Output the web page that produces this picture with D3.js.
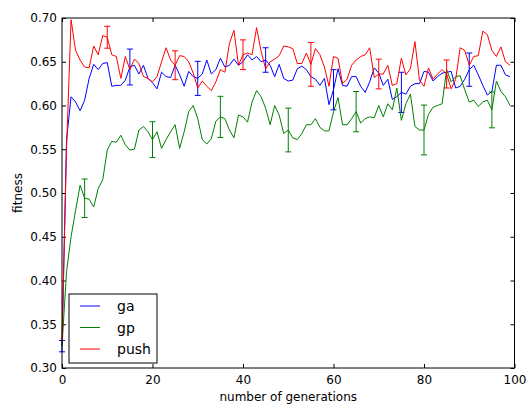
<!DOCTYPE html>
<html>
<head>
<meta charset="utf-8">
<script src="https://d3js.org/d3.v7.min.js"></script>
<style>
  body { margin: 0; background: white; }
  text { font-family: "DejaVu Sans", sans-serif; }
</style>
</head>
<body>
<div id="chart"></div>
<script>
// fitness per generation (0..99)
const ga = [
  0.325, 0.56, 0.61, 0.604, 0.594, 0.606, 0.631, 0.647, 0.641, 0.648,
  0.649, 0.622, 0.623, 0.623, 0.629, 0.644, 0.646, 0.636, 0.646, 0.631,
  0.626, 0.619, 0.638, 0.633, 0.632, 0.646, 0.635, 0.622, 0.639, 0.633,
  0.631, 0.636, 0.652, 0.636, 0.641, 0.654, 0.644, 0.646, 0.653, 0.646,
  0.65, 0.658, 0.652, 0.656, 0.65, 0.652, 0.646, 0.633, 0.647, 0.631,
  0.628, 0.629, 0.642, 0.645, 0.641, 0.633, 0.63, 0.623, 0.631, 0.601,
  0.618, 0.642, 0.623, 0.622, 0.633, 0.633, 0.622, 0.615, 0.627, 0.643,
  0.637, 0.623, 0.63, 0.607, 0.61, 0.615, 0.613, 0.622, 0.625, 0.625,
  0.639, 0.638, 0.628, 0.633, 0.637, 0.638, 0.639, 0.62, 0.622, 0.63,
  0.641, 0.646, 0.635, 0.623, 0.612, 0.616, 0.646, 0.646, 0.635, 0.633
];
const gp = [
  0.325, 0.41, 0.45, 0.48, 0.509, 0.494, 0.493, 0.484, 0.505, 0.515,
  0.549, 0.559, 0.558, 0.566, 0.555, 0.549, 0.55, 0.572, 0.576, 0.57,
  0.561, 0.57, 0.551, 0.561, 0.57, 0.578, 0.551, 0.57, 0.593, 0.6,
  0.585, 0.561, 0.556, 0.562, 0.582, 0.587, 0.585, 0.572, 0.563, 0.589,
  0.587, 0.581, 0.604, 0.617, 0.61, 0.597, 0.578, 0.6, 0.589, 0.568,
  0.572, 0.563, 0.561, 0.568, 0.578, 0.578, 0.585, 0.575, 0.571, 0.571,
  0.593, 0.609, 0.578, 0.578, 0.585, 0.593, 0.58, 0.585, 0.587, 0.586,
  0.6, 0.587, 0.602, 0.595, 0.62, 0.583, 0.602, 0.613, 0.576, 0.572,
  0.572, 0.59, 0.598, 0.6, 0.602, 0.641, 0.627, 0.633, 0.634, 0.618,
  0.604, 0.606, 0.599, 0.604, 0.606, 0.595, 0.628, 0.616, 0.61, 0.6
];
const push = [
  0.33, 0.55, 0.698, 0.663, 0.652, 0.644, 0.643, 0.668, 0.658, 0.68,
  0.678, 0.658, 0.656, 0.631, 0.656, 0.641, 0.653, 0.648, 0.633, 0.631,
  0.627, 0.633, 0.65, 0.666, 0.652, 0.646, 0.657, 0.656, 0.65, 0.637,
  0.62, 0.628, 0.622, 0.617, 0.627, 0.641, 0.638, 0.671, 0.686, 0.646,
  0.658, 0.66, 0.658, 0.689, 0.662, 0.642, 0.65, 0.653, 0.657, 0.668,
  0.667, 0.665, 0.648, 0.648, 0.66, 0.647, 0.665, 0.658, 0.644, 0.622,
  0.656, 0.654, 0.625, 0.63, 0.646, 0.652, 0.656, 0.658, 0.666, 0.632,
  0.636, 0.636, 0.646, 0.623, 0.625, 0.654, 0.635, 0.642, 0.673, 0.629,
  0.622, 0.643, 0.63, 0.636, 0.641, 0.636, 0.619, 0.63, 0.666, 0.663,
  0.646, 0.656, 0.657, 0.685, 0.681, 0.663, 0.656, 0.667, 0.65, 0.646
];

// error bars: generation where drawn and half length
const gaErrGen = [0, 15, 30, 45, 60, 75, 90];
const gaErr = [0.0065, 0.0205, 0.0195, 0.014, 0.023, 0.023, 0.019];
const gpErrGen = [5, 20, 35, 50, 65, 80, 95];
const gpErr = [0.022, 0.0205, 0.0235, 0.025, 0.023, 0.0285, 0.0205];
const pushErrGen = [10, 25, 40, 55, 70, 85];
const pushErr = [0.0125, 0.0165, 0.017, 0.025, 0.017, 0.016];

const xTicks = [0, 20, 40, 60, 80, 100];
const yTicks = [0.30, 0.35, 0.40, 0.45, 0.50, 0.55, 0.60, 0.65, 0.70];

const series = [
  {name: "ga", color: "#0000ff", values: ga, errGen: gaErrGen, err: gaErr},
  {name: "gp", color: "#008000", values: gp, errGen: gpErrGen, err: gpErr},
  {name: "push", color: "#ff0000", values: push, errGen: pushErrGen, err: pushErr}
];

// set the dimensions and margins of the graph
const margin = {top: 18, right: 12.5, bottom: 38, left: 62},
  width = 527 - margin.left - margin.right,
  height = 406 - margin.top - margin.bottom;

const svg = d3.select("#chart")
  .append("svg")
  .attr("width", 527)
  .attr("height", 406)
  .append("g")
  .attr("transform", `translate(${margin.left},${margin.top})`);

const x = d3.scaleLinear().domain([0, 100]).range([0, width]);
const y = d3.scaleLinear().domain([0.30, 0.70]).range([height, 0]);

// axes with ticks pointing inwards
svg.append("g")
  .attr("transform", `translate(0,${height})`)
  .call(d3.axisBottom(x).tickValues(xTicks).tickSize(-4).tickSizeOuter(0).tickPadding(7))
  .call(g => g.select(".domain").remove());
svg.append("g")
  .call(d3.axisLeft(y).tickValues(yTicks).tickFormat(d3.format(".2f")).tickSize(-4).tickSizeOuter(0).tickPadding(5))
  .call(g => g.select(".domain").remove());
svg.append("g")
  .call(d3.axisTop(x).tickValues(xTicks).tickSize(-4).tickSizeOuter(0).tickFormat(""))
  .call(g => g.select(".domain").remove());
svg.append("g")
  .attr("transform", `translate(${width},0)`)
  .call(d3.axisRight(y).tickValues(yTicks).tickSize(-4).tickSizeOuter(0).tickFormat(""))
  .call(g => g.select(".domain").remove());

svg.selectAll(".tick text")
  .style("font-size", "12px")
  .style("fill", "#000");

// lines
const line = d3.line()
  .x((d, i) => x(i))
  .y(d => y(d));

series.forEach(s => {
  svg.append("path")
    .datum(s.values)
    .attr("fill", "none")
    .attr("stroke", s.color)
    .attr("stroke-width", 1)
    .attr("d", line);

  // error bars
  const eb = svg.append("g").attr("stroke", s.color).attr("stroke-width", 1);
  s.errGen.forEach((gen, k) => {
    const v = s.values[gen], e = s.err[k];
    const cx = x(gen);
    eb.append("line").attr("x1", cx).attr("x2", cx).attr("y1", y(v - e)).attr("y2", y(v + e));
    eb.append("line").attr("x1", cx - 3).attr("x2", cx + 3).attr("y1", y(v - e)).attr("y2", y(v - e));
    eb.append("line").attr("x1", cx - 3).attr("x2", cx + 3).attr("y1", y(v + e)).attr("y2", y(v + e));
  });
});

// frame
svg.append("rect")
  .attr("width", width)
  .attr("height", height)
  .attr("fill", "none")
  .attr("stroke", "#000")
  .attr("stroke-width", 1);

// axis titles
svg.append("text")
  .attr("x", width / 2)
  .attr("y", height + 33)
  .style("text-anchor", "middle")
  .style("font-size", "12px")
  .text("number of generations");

svg.append("text")
  .attr("transform", "rotate(-90)")
  .attr("x", -height / 2)
  .attr("y", -40)
  .style("text-anchor", "middle")
  .style("font-size", "12px")
  .text("fitness");

// legend
const legend = svg.append("g").attr("transform", `translate(7,${height - 74})`);
legend.append("rect")
  .attr("width", 88)
  .attr("height", 69)
  .attr("fill", "white")
  .attr("stroke", "#000")
  .attr("stroke-width", 1);
series.forEach((s, i) => {
  const ly = 12 + i * 21.5;
  legend.append("line")
    .attr("x1", 11).attr("x2", 31)
    .attr("y1", ly).attr("y2", ly)
    .attr("stroke", s.color)
    .attr("stroke-width", 1);
  legend.append("text")
    .attr("x", 48)
    .attr("y", ly + 5)
    .style("font-size", "14px")
    .text(s.name);
});
</script>
</body>
</html>
